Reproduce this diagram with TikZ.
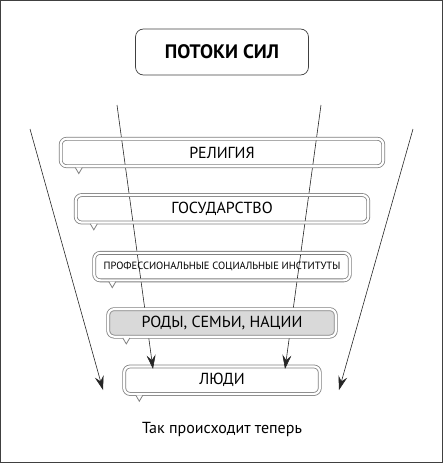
\documentclass[tikz,border=0pt]{standalone}
\usepackage{fontspec}
\setmainfont{PT Sans}
\usetikzlibrary{positioning}
\usetikzlibrary{arrows.meta}
\usetikzlibrary{backgrounds}

\begin{document}
\begin{tikzpicture}[x=1pt,y=-1pt]
    \tikzset{layer/.style= {draw=gray, double=white, double distance=2.2pt, line width=0.8pt, rounded corners=6pt, align=center, minimum height=27.5pt, inner sep=0pt, font=\fontsize{16}{16}\selectfont},
             flow/.style= {draw=black!85, line width=0.6pt, -{Stealth[length=14pt,width=9pt,inset=5pt]}},
             tail/.style= {draw=gray, line width=0.8pt, fill=white},}

    \useasboundingbox (0,0) rectangle (443,463);
    \draw[gray!50!black, line width=1pt] (0.5,0.5) rectangle (442.5,462.5);

    \node [draw=black!75, line width=0.7pt, rounded corners=8pt, minimum width=173pt, minimum height=46pt, font=\bfseries\fontsize{19.5}{19.5}\selectfont] (title) at (222,52) {ПОТОКИ СИЛ};
    \node [layer, minimum width=322.6pt, below =63pt of title] (rel) {РЕЛИГИЯ};
    \node [layer, minimum width=292.6pt, below =28pt of rel] (state) {ГОСУДАРСТВО};
    \node [layer, minimum width=255.6pt, below =29.5pt of state, font=\fontsize{10.5}{10.5}\selectfont] (prof) {ПРОФЕССИОНАЛЬНЫЕ СОЦИАЛЬНЫЕ ИНСТИТУТЫ};
    \node [layer, minimum width=227.6pt, below =28pt of prof, fill=gray!30] (rody) {РОДЫ, СЕМЬИ, НАЦИИ};

    \foreach \n in {rel,state,prof,rody}
        \draw[tail] ([xshift=15pt,yshift=-0.9pt]\n.south west) -- ++(3.5,6) -- ++(3.5,-6);

    % flows run behind the upper layers, the people box sits under the arrow tips
    \begin{scope}[on background layer]
        \node [layer, minimum width=195.6pt, below =29pt of rody] (ppl) {ЛЮДИ};
        \draw[tail] ([xshift=12pt,yshift=-0.9pt]ppl.south west) -- ++(3.5,6) -- ++(3.5,-6);

        \coordinate (farleft) at (30,129);
        \coordinate (farleftend) at (103,390);
        \coordinate (farright) at (413,129);
        \coordinate (farrightend) at (339,390);
        \coordinate (nearleft) at (117,105);
        \coordinate (nearleftend) at (153,369);
        \coordinate (nearright) at (321,105);
        \coordinate (nearrightend) at (285,369);
        \draw[flow] (farleft) -- (farleftend);
        \draw[flow] (farright) -- (farrightend);
        \draw[flow] (nearleft) -- (nearleftend);
        \draw[flow] (nearright) -- (nearrightend);
    \end{scope}

    \node [below =24pt of ppl, font=\fontsize{16}{16}\selectfont] (note) {Так происходит теперь};
\end{tikzpicture}
\end{document}
